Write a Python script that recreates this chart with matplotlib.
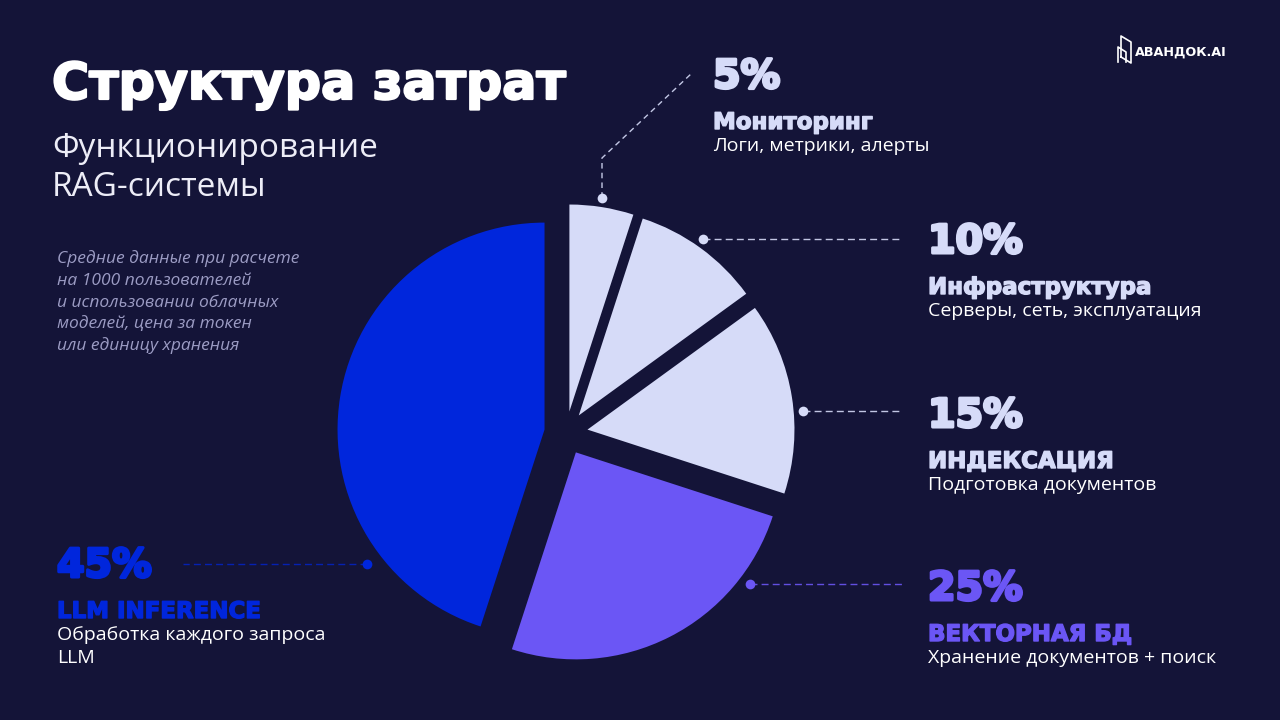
import numpy as np
import matplotlib
matplotlib.use("Agg")
import matplotlib.pyplot as plt
import matplotlib.patheffects as pe

BG = "#141438"
LIGHT = "#D6DBF8"
PURPLE = "#6B56F5"
BLUE = "#0026DC"
NOTE = "#9C9CC4"

# slices, clockwise from 12 o'clock
shares = [5, 10, 15, 25, 45]
pct_labels = ["5%", "10%", "15%", "25%", "45%"]
names = ["Мониторинг", "Инфраструктура", "ИНДЕКСАЦИЯ", "ВЕКТОРНАЯ БД", "LLM INFERENCE"]
descriptions = [["Логи, метрики, алерты"],
                ["Серверы, сеть, эксплуатация"],
                ["Подготовка документов"],
                ["Хранение документов + поиск"],
                ["Обработка каждого запроса", "LLM"]]
slice_colors = [LIGHT, LIGHT, LIGHT, PURPLE, BLUE]
text_colors = [LIGHT, LIGHT, LIGHT, PURPLE, BLUE]

title = "Структура затрат"
subtitle = ["Функционирование", "RAG-системы"]
note = ["Средние данные при расчете", "на 1000 пользователей",
        "и использовании облачных", "моделей, цена за токен",
        "или единицу хранения"]

HEAD = "DejaVu Sans"
BODY = "Open Sans"

# layout in screen pixels (y down)
CX, CY, R = 566, 433, 207
EXPLODE = 0.105
DOT_R = 238
dot_angles = [8.7, 35.2, 84.7, 129.3, 236.6]      # clockwise from top
line_ends = [None, 903, 902, 905, 183]            # x where dashed line stops
text_x = [713, 928, 928, 928, 57]
pct_base = [88, 253, 427, 600, 577]


def heavy(col, w):
    # fake a heavier weight than DejaVu Bold has
    return [pe.withStroke(linewidth=w, foreground=col)]


fig = plt.figure(figsize=(12.8, 7.2), dpi=100, facecolor=BG)

# pie axes sized so one data unit == R pixels
pax = fig.add_axes([(CX - 1.25 * R) / 1280, 1 - (CY + 1.25 * R) / 720,
                    2.5 * R / 1280, 2.5 * R / 720])
pax.pie(shares, colors=slice_colors, explode=[EXPLODE] * len(shares),
        startangle=90, counterclock=False,
        wedgeprops=dict(linewidth=0))
pax.set_xlim(-1.25, 1.25)
pax.set_ylim(-1.25, 1.25)
pax.set_aspect("equal")
pax.axis("off")

# overlay in screen pixels for labels and leader lines
ax = fig.add_axes([0, 0, 1, 1])
ax.set_xlim(0, 1280)
ax.set_ylim(720, 0)
ax.axis("off")
ax.patch.set_alpha(0)

for i in range(len(shares)):
    th = np.radians(dot_angles[i])
    dx, dy = CX + DOT_R * np.sin(th), CY - DOT_R * np.cos(th)
    col = text_colors[i]
    if i == 0:
        ax.plot([dx, dx, 692], [dy, 158, 73], color=col, lw=1.0,
                dashes=(4, 3), alpha=0.9)
    else:
        ax.plot([dx, line_ends[i]], [dy, dy], color=col, lw=1.0,
                dashes=(5, 3), alpha=0.9 if i < 4 else 0.75)
    ax.plot(dx, dy, "o", ms=7, color=col, mec="none")

    x, b = text_x[i], pct_base[i]
    ax.text(x, b, pct_labels[i], color=col, fontsize=28.5, fontweight="bold",
            family=HEAD, va="baseline", ha="left", path_effects=heavy(col, 2.2))
    ax.text(x, b + 41, names[i], color=col, fontsize=16.5, fontweight="bold",
            family=HEAD, va="baseline", ha="left", path_effects=heavy(col, 1.0))
    for k, line in enumerate(descriptions[i]):
        ax.text(x, b + 63 + 23 * k, line, color="white", fontsize=14,
                family=BODY, va="baseline", ha="left")

ax.text(52, 99, title, color="white", fontsize=36.5, fontweight="bold",
        family=HEAD, va="baseline", ha="left", path_effects=heavy("white", 1.6))
for k, line in enumerate(subtitle):
    ax.text(52, 157 + 39 * k, line, color="#EDEDF7", fontsize=24,
            family=BODY, va="baseline", ha="left")
for k, line in enumerate(note):
    ax.text(57, 263 + 21.8 * k, line, color=NOTE, fontsize=12.5,
            family=BODY, style="italic", va="baseline", ha="left")

# logo
ax.plot([1121, 1121, 1131, 1131, 1121], [57, 36, 42, 63, 57], color="white", lw=1.2)
ax.plot([1118, 1118, 1126, 1126], [62, 47, 52, 62], color="white", lw=1.2)
ax.text(1135, 56, "АВАНДОК.AI", color="white", fontsize=9.2, fontweight="bold",
        family=HEAD, va="baseline", ha="left")

fig.savefig("out.png", dpi=100, facecolor=BG)
